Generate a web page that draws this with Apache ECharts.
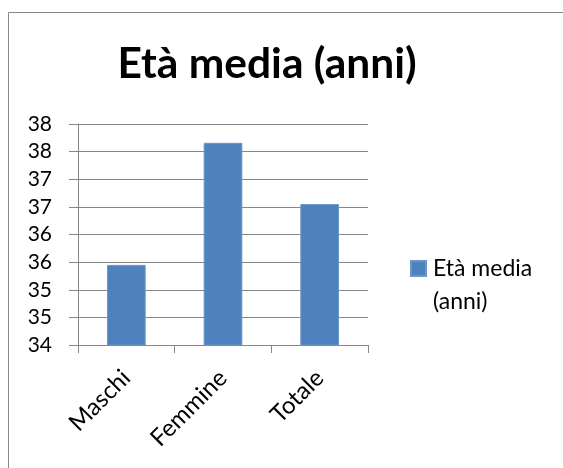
<!DOCTYPE html>
<html>
<head>
<meta charset="utf-8">
<script src="https://cdn.jsdelivr.net/npm/echarts@6/dist/echarts.min.js"></script>
<style>
html,body{margin:0;padding:0;background:#fff;}
#c{width:563px;height:468px;}
</style>
</head>
<body>
<div id="c"></div>
<script>
const categories = ['Maschi', 'Femmine', 'Totale'];
const seriesName = 'Età media (anni)';
const values = [35.45, 37.66, 36.55];
const yTickLabels = ['34', '35', '35', '36', '36', '37', '37', '38', '38'];

const chart = echarts.init(document.getElementById('c'), null, {renderer: 'canvas'});
const font = 'Lato';
chart.setOption({
  animation: false,
  backgroundColor: '#fff',
  graphic: [{
    type: 'rect', silent: true, z: -10,
    shape: {x: 8.5, y: 12.5, width: 700, height: 700},
    style: {fill: 'none', stroke: '#888', lineWidth: 1}
  }],
  title: {
    text: seriesName,
    left: 267, top: 43, textAlign: 'center', padding: 0,
    textStyle: {fontFamily: font, fontWeight: 'bold', fontSize: 42.5, color: '#000'}
  },
  legend: {
    left: 410, top: 252, padding: 0,
    orient: 'vertical',
    itemWidth: 15, itemHeight: 48,
    icon: 'path://M0,0L15,0L15,15L0,15Z M0,48',
    formatter: function (n) { return 'Età media\n(anni)'; },
    textStyle: {fontFamily: font, fontSize: 23, color: '#000', lineHeight: 33, padding: [0, 0, 0, 2]},
    data: [seriesName]
  },
  grid: {left: 78, right: 195, top: 124, bottom: 123, containLabel: false},
  xAxis: {
    type: 'category',
    data: categories,
    axisLine: {lineStyle: {color: '#868686', width: 1}},
    axisTick: {show: true, length: 8, inside: false, alignWithLabel: false, lineStyle: {color: '#868686'}},
    axisLabel: {rotate: 45, margin: 29, fontFamily: font, fontSize: 24, color: '#000'}
  },
  yAxis: {
    type: 'value',
    min: 34, max: 38, interval: 0.5,
    axisLine: {show: true, lineStyle: {color: '#868686', width: 1}},
    axisTick: {show: true, length: 9, lineStyle: {color: '#868686'}},
    splitLine: {show: true, lineStyle: {color: '#868686', width: 1}},
    axisLabel: {
      margin: 26, fontFamily: font, fontSize: 21, color: '#000',
      formatter: function (v, i) { return yTickLabels[i]; }
    }
  },
  series: [{
    name: seriesName,
    type: 'bar',
    data: values,
    barWidth: '40%',
    itemStyle: {color: '#4F81BD', borderColor: '#6b95c8', borderWidth: 1}
  }]
});
</script>
</body>
</html>
